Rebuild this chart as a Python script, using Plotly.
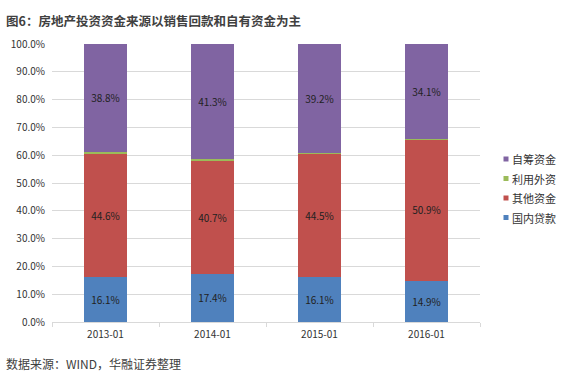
import plotly.graph_objects as go

categories = ["2013-01", "2014-01", "2015-01", "2016-01"]
domestic_loans = [16.1, 17.4, 16.1, 14.9]
other_funds = [44.6, 40.7, 44.5, 50.9]
foreign_capital = [0.5, 0.6, 0.2, 0.1]
self_raised = [38.8, 41.3, 39.2, 34.1]

series = [
    ("国内贷款", domestic_loans, "#4F81BD", True),
    ("其他资金", other_funds, "#C0504D", True),
    ("利用外资", foreign_capital, "#9BBB59", False),
    ("自筹资金", self_raised, "#8064A2", True),
]

FONT = "Noto Sans CJK SC"
W, H = 567, 380
ML, MR, MT, MB = 52, 87, 44, 58
PW, PH = W - ML - MR, H - MT - MB

def px_x(x):
    return (x - ML) / PW

def px_y(y):
    return (H - MB - y) / PH

fig = go.Figure()
for name, vals, color, show_text in series:
    fig.add_trace(go.Bar(
        x=categories, y=vals, name=name, marker=dict(color=color, line=dict(width=0)),
        text=[f"{v:.1f}%" for v in vals] if show_text else None,
        textposition="inside" if show_text else "none",
        insidetextanchor="middle", textangle=0,
        textfont=dict(family=FONT, size=10, color="#222222"),
        showlegend=False, hoverinfo="skip",
    ))

annotations = [
    dict(text="<b>图6：房地产投资资金来源以销售回款和自有资金为主</b>",
         xref="paper", yref="paper", x=px_x(4), y=px_y(20), xanchor="left", yanchor="middle",
         showarrow=False, font=dict(family=FONT, size=12.5, color="#404040")),
    dict(text="数据来源：WIND，华融证券整理",
         xref="paper", yref="paper", x=px_x(4), y=px_y(363), xanchor="left", yanchor="middle",
         showarrow=False, font=dict(family=FONT, size=12, color="#404040")),
]
shapes = []
# legend (top to bottom: reversed stacking order)
leg_y0, leg_dy = 159, 19.5
for i, (name, vals, color, _) in enumerate(reversed(series)):
    yc = leg_y0 + i * leg_dy
    shapes.append(dict(type="rect", xref="paper", yref="paper",
                       x0=px_x(503.5), x1=px_x(508.5), y0=px_y(yc + 2.5), y1=px_y(yc - 2.5),
                       fillcolor=color, line=dict(width=0)))
    annotations.append(dict(text=name, xref="paper", yref="paper",
                            x=px_x(510), y=px_y(yc), xanchor="left", yanchor="middle",
                            showarrow=False, font=dict(family=FONT, size=11, color="#333333")))

fig.update_layout(
    barmode="stack", bargap=0.6,
    width=W, height=H,
    margin=dict(l=ML, r=MR, t=MT, b=MB, autoexpand=False),
    plot_bgcolor="white", paper_bgcolor="white",
    font=dict(family=FONT, size=10, color="#333333"),
    uniformtext=dict(minsize=9, mode="show"),
    showlegend=False,
    xaxis=dict(type="category", showline=True, linecolor="#d9d9d9", linewidth=1,
               tickfont=dict(size=10, color="#333333"),
               showgrid=False, ticks="outside", ticklen=4, tickcolor="#d9d9d9",
               tickson="boundaries", ticklabelstandoff=3),
    yaxis=dict(range=[0, 100], dtick=10, ticksuffix="%", tickformat=".1f",
               showgrid=True, gridcolor="#d9d9d9", gridwidth=1,
               zeroline=False, showline=False,
               tickfont=dict(size=10, color="#333333"), ticklabelstandoff=6),
    annotations=annotations,
    shapes=shapes,
)

fig.write_html("out.html", config={"displayModeBar": False},
               post_script="document.body.style.margin='0';")
